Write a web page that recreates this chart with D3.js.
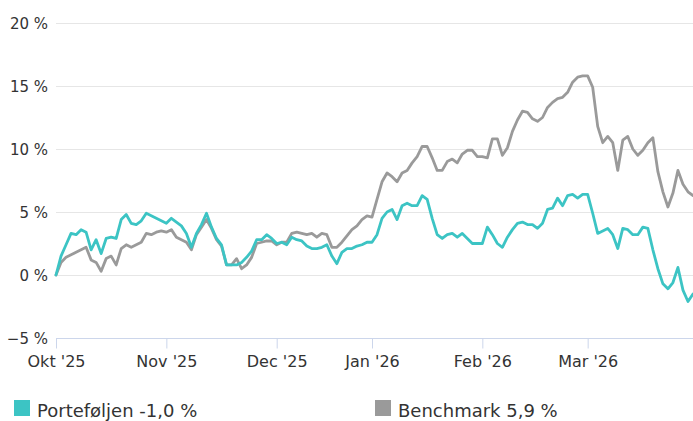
<!DOCTYPE html>
<html>
<head>
<meta charset="utf-8">
<script src="https://cdn.jsdelivr.net/npm/d3@7"></script>
<style>
  body { margin: 0; background: #fff; }
  text { font-family: "DejaVu Sans", Verdana, sans-serif; fill: #333; }
</style>
</head>
<body>
<svg width="693" height="421"></svg>
<script>
// return in % since start, one value per point (x = point index)
var portfolio = [
  0, 1.5, 2.4, 3.3, 3.2, 3.6, 3.4, 2.0, 2.8, 1.7, 2.9, 3.0, 2.9, 4.4, 4.8, 4.1, 4.0, 4.3, 4.9, 4.7,
  4.5, 4.3, 4.1, 4.5, 4.2, 3.9, 3.3, 2.2, 3.3, 4.0, 4.9, 3.8, 2.9, 2.4, 0.8, 0.8, 0.8, 1.0, 1.4, 1.9,
  2.8, 2.8, 3.2, 2.9, 2.5, 2.6, 2.4, 3.0, 2.8, 2.7, 2.3, 2.1, 2.1, 2.2, 2.4, 1.5, 0.9, 1.8, 2.1, 2.1,
  2.3, 2.4, 2.6, 2.6, 3.2, 4.5, 5.0, 5.2, 4.4, 5.5, 5.7, 5.5, 5.5, 6.3, 6.0, 4.5, 3.2, 2.9, 3.2, 3.3,
  3.0, 3.3, 2.9, 2.5, 2.5, 2.5, 3.8, 3.2, 2.5, 2.2, 3.0, 3.6, 4.1, 4.2, 4.0, 4.0, 3.7, 4.1, 5.2, 5.3,
  6.1, 5.5, 6.3, 6.4, 6.1, 6.4, 6.4, 4.9, 3.3, 3.5, 3.7, 3.2, 2.1, 3.7, 3.6, 3.2, 3.2, 3.8, 3.7, 2.0,
  0.5, -0.7, -1.1, -0.6, 0.6, -1.2, -2.1, -1.5
];

var benchmark = [
  0, 1.0, 1.4, 1.6, 1.8, 2.0, 2.2, 1.2, 1.0, 0.3, 1.3, 1.5, 0.8, 2.1, 2.4, 2.2, 2.4, 2.6, 3.3, 3.2,
  3.4, 3.5, 3.4, 3.6, 3.0, 2.8, 2.6, 2.0, 3.2, 3.8, 4.4, 3.7, 2.8, 2.3, 0.8, 0.8, 1.3, 0.5, 0.8, 1.4,
  2.5, 2.6, 2.7, 2.7, 2.4, 2.6, 2.6, 3.3, 3.4, 3.3, 3.2, 3.3, 3.0, 3.3, 3.2, 2.2, 2.2, 2.6, 3.1, 3.6,
  3.9, 4.4, 4.7, 4.6, 6.0, 7.4, 8.1, 7.8, 7.4, 8.1, 8.3, 8.9, 9.4, 10.2, 10.2, 9.3, 8.3, 8.3, 9.0, 9.2,
  8.9, 9.6, 9.9, 9.9, 9.4, 9.4, 9.3, 10.8, 10.8, 9.5, 10.1, 11.4, 12.3, 13.0, 12.9, 12.4, 12.2, 12.5, 13.3, 13.7,
  14.0, 14.1, 14.5, 15.3, 15.7, 15.8, 15.8, 14.9, 11.8, 10.5, 11.0, 10.5, 8.3, 10.7, 11.0, 10.0, 9.5, 9.9, 10.5, 10.9,
  8.2, 6.6, 5.4, 6.5, 8.3, 7.2, 6.6, 6.3
];

// first point of each month
var monthLabels = ["Okt '25", "Nov '25", "Dec '25", "Jan '26", "Feb '26", "Mar '26"];
var monthStart = [0, 22, 44, 63, 85, 106];

var yTicks = [-5, 0, 5, 10, 15, 20];

var seriesNames = ["Porteføljen -1,0 %", "Benchmark 5,9 %"];
var seriesColors = ["#3cc4c4", "#9a9a9a"];

var svg = d3.select("svg"),
    margin = {left: 56, right: 0, top: 23, bottom: 83},
    width = +svg.attr("width"),
    height = +svg.attr("height");

var x = d3.scaleLinear()
    .domain([0, portfolio.length - 1])
    .range([margin.left, width - margin.right]);

var y = d3.scaleLinear()
    .domain([-5, 20])
    .range([height - margin.bottom, margin.top]);

// grid
svg.append("g")
  .selectAll("line")
  .data(yTicks.filter(function(d) { return d > -5; }))
  .enter().append("line")
    .attr("x1", margin.left)
    .attr("x2", width - margin.right)
    .attr("y1", function(d) { return Math.round(y(d)) + 0.5; })
    .attr("y2", function(d) { return Math.round(y(d)) + 0.5; })
    .attr("stroke", "#e6e6e6")
    .attr("stroke-width", 1);

// y labels
svg.append("g")
  .selectAll("text")
  .data(yTicks)
  .enter().append("text")
    .attr("x", 48)
    .attr("y", function(d) { return y(d) + 6; })
    .attr("text-anchor", "end")
    .style("font-size", "15px")
    .text(function(d) { return (d < 0 ? "\u2212" + (-d) : d) + " %"; });

// x axis
var xAxis = d3.axisBottom(x)
    .tickValues(monthStart)
    .tickSize(10)
    .tickFormat(function(d, i) { return monthLabels[i]; });

var gx = svg.append("g")
    .attr("transform", "translate(0," + (Math.round(y(-5)) + 0.5) + ")")
    .call(xAxis);

gx.select(".domain").attr("stroke", "#ccd6eb").attr("d", "M" + margin.left + ",0H" + width);
gx.selectAll(".tick line").attr("stroke", "#ccd6eb");
gx.selectAll(".tick text")
    .attr("y", 17)
    .attr("dy", "0.71em")
    .style("font-size", "16px")
    .style("fill", "#333");

// lines
var line = d3.line()
    .x(function(d, i) { return x(i); })
    .y(function(d) { return y(d); });

svg.append("g")
  .selectAll("path")
  .data([benchmark, portfolio])
  .enter().append("path")
    .attr("d", line)
    .attr("fill", "none")
    .attr("stroke", function(d, i) { return i === 0 ? seriesColors[1] : seriesColors[0]; })
    .attr("stroke-width", 2.8)
    .attr("stroke-linejoin", "round")
    .attr("stroke-linecap", "round");

// legend
var legendX = [14, 375];
var legend = svg.append("g")
  .selectAll("g")
  .data(seriesNames)
  .enter().append("g")
    .attr("transform", function(d, i) { return "translate(" + legendX[i] + ",400)"; });

legend.append("rect")
    .attr("width", 16)
    .attr("height", 16)
    .attr("fill", function(d, i) { return seriesColors[i]; });

legend.append("text")
    .attr("x", 23)
    .attr("y", 17)
    .style("font-size", "18px")
    .text(function(d) { return d; });
</script>
</body>
</html>
